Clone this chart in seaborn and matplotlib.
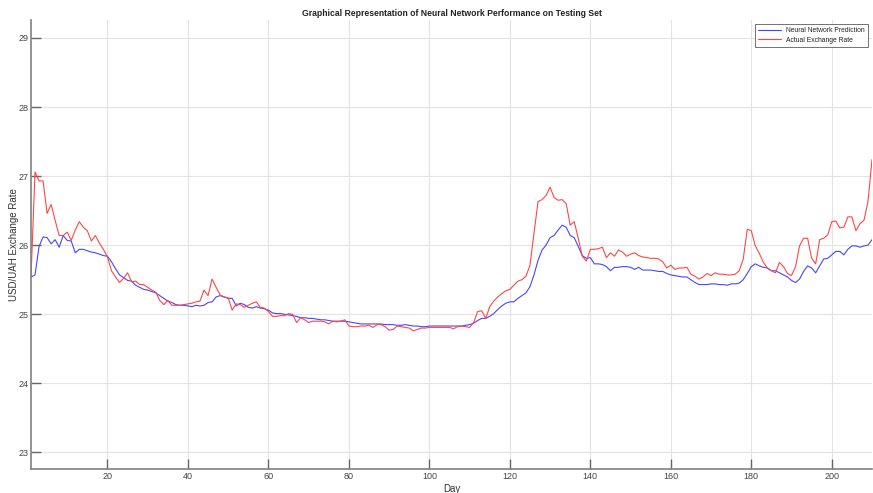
import numpy as np
import pandas as pd
import matplotlib
matplotlib.use("Agg")
import matplotlib.pyplot as plt
import seaborn as sns

days = list(range(1, 211))

prediction = [
    25.54, 25.57, 25.98, 26.12, 26.11, 26.02, 26.08, 25.97, 26.14, 26.07,
    26.06, 25.89, 25.94, 25.94, 25.92, 25.90, 25.89, 25.87, 25.85, 25.84,
    25.76, 25.66, 25.57, 25.53, 25.49, 25.48, 25.42, 25.39, 25.36, 25.35,
    25.33, 25.31, 25.27, 25.23, 25.19, 25.17, 25.14, 25.13, 25.13, 25.12,
    25.11, 25.13, 25.12, 25.13, 25.17, 25.18, 25.25, 25.27, 25.25, 25.23,
    25.23, 25.12, 25.16, 25.14, 25.10, 25.09, 25.11, 25.09, 25.08, 25.06,
    25.02, 25.01, 25.01, 25.00, 24.99, 24.98, 24.97, 24.95, 24.95, 24.94,
    24.94, 24.93, 24.92, 24.92, 24.91, 24.90, 24.90, 24.90, 24.90, 24.89,
    24.88, 24.87, 24.86, 24.86, 24.86, 24.86, 24.86, 24.86, 24.85, 24.85,
    24.85, 24.84, 24.84, 24.85, 24.84, 24.83, 24.83, 24.82, 24.82, 24.83,
    24.83, 24.83, 24.83, 24.83, 24.83, 24.83, 24.83, 24.83, 24.84, 24.85,
    24.87, 24.91, 24.94, 24.94, 24.97, 25.01, 25.07, 25.12, 25.16, 25.18,
    25.18, 25.23, 25.27, 25.31, 25.40, 25.57, 25.78, 25.93, 26.00, 26.11,
    26.14, 26.22, 26.29, 26.26, 26.14, 26.11, 25.98, 25.85, 25.81, 25.82,
    25.73, 25.73, 25.72, 25.69, 25.63, 25.68, 25.68, 25.69, 25.69, 25.68,
    25.65, 25.68, 25.64, 25.64, 25.64, 25.63, 25.62, 25.62, 25.59, 25.57,
    25.56, 25.55, 25.54, 25.54, 25.50, 25.46, 25.43, 25.43, 25.43, 25.44,
    25.44, 25.43, 25.43, 25.42, 25.44, 25.44, 25.45, 25.50, 25.59, 25.69,
    25.73, 25.70, 25.68, 25.67, 25.63, 25.63, 25.60, 25.57, 25.54, 25.49,
    25.46, 25.51, 25.62, 25.70, 25.67, 25.60, 25.70, 25.80, 25.81, 25.86,
    25.91, 25.91, 25.86, 25.94, 25.99, 25.99, 25.97, 25.99, 26.00, 26.08,
]

actual = [
    25.54, 27.06, 26.93, 26.93, 26.46, 26.59, 26.36, 26.14, 26.14, 26.19,
    26.07, 26.22, 26.34, 26.26, 26.21, 26.06, 26.14, 26.03, 25.94, 25.83,
    25.63, 25.54, 25.46, 25.52, 25.60, 25.47, 25.48, 25.43, 25.43, 25.39,
    25.35, 25.32, 25.20, 25.14, 25.20, 25.13, 25.13, 25.13, 25.14, 25.15,
    25.16, 25.18, 25.19, 25.35, 25.27, 25.51, 25.39, 25.28, 25.25, 25.24,
    25.06, 25.15, 25.14, 25.10, 25.13, 25.16, 25.18, 25.10, 25.09, 25.04,
    24.97, 24.97, 24.98, 24.98, 25.01, 25.00, 24.88, 24.95, 24.92, 24.88,
    24.90, 24.90, 24.90, 24.89, 24.86, 24.90, 24.89, 24.90, 24.92, 24.83,
    24.82, 24.82, 24.83, 24.83, 24.84, 24.81, 24.85, 24.85, 24.82, 24.77,
    24.78, 24.83, 24.82, 24.81, 24.80, 24.76, 24.78, 24.80, 24.80, 24.81,
    24.81, 24.81, 24.81, 24.81, 24.81, 24.79, 24.82, 24.83, 24.82, 24.81,
    24.88, 25.04, 25.05, 24.94, 25.11, 25.19, 25.25, 25.30, 25.34, 25.36,
    25.42, 25.48, 25.50, 25.55, 25.71, 26.17, 26.63, 26.66, 26.72, 26.84,
    26.69, 26.65, 26.66, 26.60, 26.29, 26.34, 26.10, 25.84, 25.77, 25.94,
    25.94, 25.95, 25.97, 25.82, 25.89, 25.84, 25.93, 25.90, 25.84, 25.87,
    25.89, 25.85, 25.83, 25.82, 25.81, 25.81, 25.80, 25.76, 25.67, 25.71,
    25.65, 25.67, 25.67, 25.68, 25.58, 25.55, 25.51, 25.54, 25.59, 25.56,
    25.60, 25.58, 25.58, 25.57, 25.57, 25.58, 25.63, 25.80, 26.23, 26.21,
    25.99, 25.88, 25.75, 25.67, 25.63, 25.60, 25.75, 25.69, 25.59, 25.56,
    25.69, 25.99, 26.10, 26.10, 25.81, 25.73, 26.08, 26.10, 26.15, 26.34,
    26.35, 26.25, 26.26, 26.41, 26.41, 26.21, 26.31, 26.36, 26.63, 27.24,
]

series_names = ["Neural Network Prediction", "Actual Exchange Rate"]
series_colors = ["#4646ff", "#ff4646"]
x_ticks = list(range(20, 201, 20))
y_ticks = list(range(23, 30))

df = pd.DataFrame({
    "Day": days * 2,
    "Rate": prediction + actual,
    "Series": [series_names[0]] * len(days) + [series_names[1]] * len(days),
})

sns.set_theme(style="white")
plt.rcParams["font.family"] = ["Liberation Sans", "DejaVu Sans"]

fig = plt.figure(figsize=(8.73, 4.93), dpi=100)
ax = fig.add_axes([31 / 873, 1 - 469 / 493, 841 / 873, 449 / 493])

sns.lineplot(data=df, x="Day", y="Rate", hue="Series", hue_order=series_names,
             palette=series_colors, linewidth=0.8, ax=ax)

ax.set_xlim(1, 210)
ax.set_ylim(22.76, 29.26)
ax.set_xticks(x_ticks)
ax.set_yticks(y_ticks)
ax.grid(True, color="#e3e3e3", linewidth=0.8)
ax.set_axisbelow(True)

for s in ["top", "right"]:
    ax.spines[s].set_visible(False)
for s in ["left", "bottom"]:
    ax.spines[s].set_color("#808080")
    ax.spines[s].set_linewidth(1.2)

ax.tick_params(axis="both", direction="in", length=7, width=1.0, color="#666666",
               labelsize=6.5, labelcolor="#444444", pad=2,
               left=True, bottom=True)

ax.set_xlabel("Day", fontsize=7, color="#333333", labelpad=2)
ax.set_ylabel("USD/UAH Exchange Rate", fontsize=7, color="#333333", labelpad=-0.5)
ax.set_title("Graphical Representation of Neural Network Performance on Testing Set",
             fontsize=6.2, fontweight="bold", color="#222222", pad=3)

leg = ax.legend(loc="upper right", fontsize=4.9, frameon=True, fancybox=False,
                edgecolor="#333333", handlelength=3.3, borderpad=0.45,
                labelspacing=0.35, handletextpad=0.8, borderaxespad=0.6)
leg.get_frame().set_linewidth(0.6)
for t in leg.get_texts():
    t.set_color("#222222")

fig.savefig("out.png", dpi=100, facecolor="white")
